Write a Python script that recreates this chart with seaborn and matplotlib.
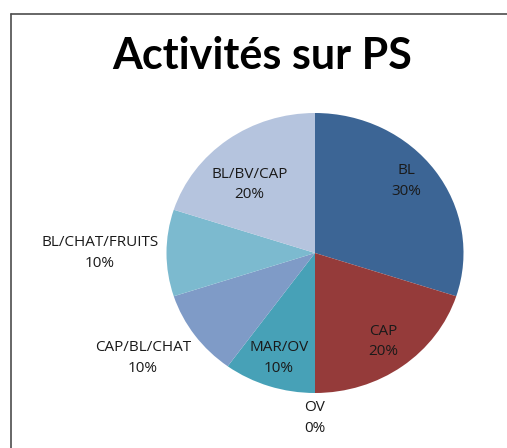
import numpy as np
import matplotlib
matplotlib.use("Agg")
import matplotlib.pyplot as plt
from matplotlib.lines import Line2D
import seaborn as sns

# slice data, clockwise from 12 o'clock
activities = ["BL", "CAP", "OV", "MAR/OV", "CAP/BL/CHAT", "BL/CHAT/FRUITS", "BL/BV/CAP"]
shares = [30, 20, 0, 10, 10, 10, 20]
slice_colors = ["#3c6595", "#953b3a", "#4f81bd", "#47a1b7", "#7f9bc7", "#7cbacf", "#b5c4de"]

# label placement (radius units) and small angle nudges, like Excel's best fit
label_dist = [0.80, 0.78, 1.18, 0.79, 1.38, 1.45, 0.66]
label_nudge = [4, 0, 0, 0, -3, 0, 6]

sns.set_theme(style="white")
plt.rcParams["font.family"] = ["Open Sans", "DejaVu Sans"]

W, H = 507, 448
fig = plt.figure(figsize=(W / 100, H / 100), dpi=100)
fig.patch.set_facecolor("white")

# pie centre and radii in pixels (slightly wider than tall in the original)
cx, cy, rx, ry = 315, 253, 148.5, 140
xl, yl = 1.6, 1.3
ax = fig.add_axes([(cx - xl * rx) / W, (H - cy - yl * ry) / H, 2 * xl * rx / W, 2 * yl * ry / H])

palette = sns.color_palette(slice_colors)
wedges, _ = ax.pie(shares, colors=palette, startangle=90, counterclock=False,
                   radius=1, wedgeprops=dict(linewidth=0))
ax.set_aspect("auto")
ax.set_xlim(-xl, xl)
ax.set_ylim(-yl, yl)
ax.axis("off")

for w, name, val, d, nudge in zip(wedges, activities, shares, label_dist, label_nudge):
    mid = np.deg2rad((w.theta1 + w.theta2) / 2 + nudge)
    ax.text(d * np.cos(mid), d * np.sin(mid), f"{name}\n{val}%", ha="center", va="center",
            fontsize=11, color="#1a1a1a", linespacing=1.5)

fig.text(262 / W, 1 - 69 / H, "Activités sur PS", ha="center", va="baseline",
         fontsize=31, fontweight="bold", color="black", family=["Lato", "DejaVu Sans"])

# chart frame, cropped at right and bottom
fig.add_artist(Line2D([10.5 / W, 10.5 / W], [0, 1 - 14 / H], color="#4d4d4d", lw=1.2))
fig.add_artist(Line2D([10.5 / W, 1], [1 - 14 / H, 1 - 14 / H], color="#4d4d4d", lw=1.2))

fig.savefig("out.png", dpi=100, facecolor="white")
